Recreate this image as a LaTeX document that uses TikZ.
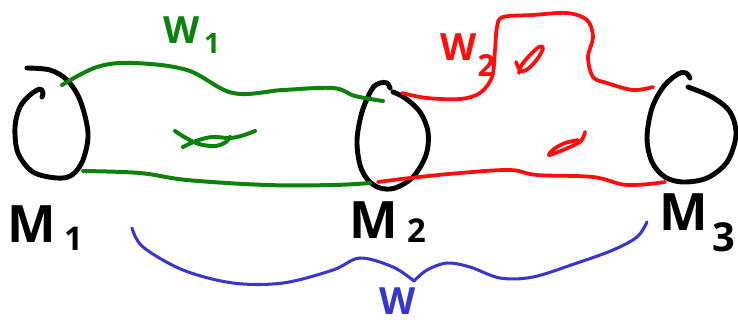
\documentclass[tikz,border=0pt]{standalone}
\usepackage{fontspec}
\setmainfont{Open Sans}

\definecolor{cobgreen}{RGB}{12,130,12}
\definecolor{cobred}{RGB}{255,12,12}
\definecolor{cobblue}{RGB}{55,55,205}

\tikzset{
  manifold/.style={line width=4.2pt, line cap=round, line join=round, black},
  wone/.style={line width=3.4pt, line cap=round, line join=round, cobgreen},
  wtwo/.style={line width=3.2pt, line cap=round, line join=round, cobred},
  bracket/.style={line width=2.6pt, line cap=round, line join=round, cobblue},
  biglabel/.style={inner sep=0pt, anchor=base west, font=\bfseries\fontsize{44}{46}\selectfont},
  midlabel/.style={inner sep=0pt, anchor=base west, font=\bfseries\fontsize{32}{34}\selectfont},
}
% subscript digit: lowered by #1, set at size #2
\newcommand\lowdigit[3]{\lower#1\hbox{\fontsize{#2}{#2}\selectfont #3}}

\begin{document}
\begin{tikzpicture}[x=0.03cm, y=-0.03cm]
  \useasboundingbox (0,0) rectangle (738,322);

  % boundary circles
  \draw[manifold] plot[smooth, tension=0.55] coordinates {
    (27,68) (50,70) (67,80) (80,100) (88,133) (83,160) (72,175) (57,178)
    (33,172) (18,153) (15,127) (20,107) (30,95) (40,89) (43,93) (42,97)};
  \draw[manifold] plot[smooth, tension=0.55] coordinates {
    (390,88) (387,83) (380,83) (372,89) (362,112) (357,140) (360,165)
    (368,180) (380,188) (395,188) (413,177) (426,155) (428,132) (420,112)
    (405,98) (393,92)};
  \draw[manifold] plot[smooth, tension=0.55] coordinates {
    (690,78) (686,73) (678,74) (664,86) (652,108) (647,138) (652,162)
    (665,177) (683,182) (707,178) (727,162) (736,135) (730,112) (712,97)
    (688,87)};

  % cobordism W_1
  \draw[wone] plot[smooth, tension=0.6] coordinates {
    (62,85) (97,67) (133,63) (187,70) (233,93) (283,90) (333,88) (355,96)
    (383,101)};
  \draw[wone] plot[smooth, tension=0.6] coordinates {
    (83,171) (140,173) (187,180) (267,185) (333,185) (370,183)};
  \draw[wone] plot[smooth, tension=0.6] coordinates {
    (175,131) (186,138) (199,144) (215,146) (226,142) (230,137)};
  \draw[wone] plot[smooth, tension=0.6] coordinates {
    (183,147) (196,141) (212,137) (229,138) (241,136) (255,131)};

  % cobordism W_2
  \draw[wtwo] plot[smooth, tension=0.55] coordinates {
    (402,93) (427,98) (460,99) (480,93) (492,77) (495,50) (497,27) (503,17)
    (533,15) (567,13) (587,20) (593,37) (588,57) (593,77) (607,83) (633,90)
    (653,87)};
  \draw[wtwo] plot[smooth, tension=0.6] coordinates {
    (378,182) (410,178) (460,173) (510,170) (537,175) (593,177) (627,185)
    (665,182)};
  \draw[wtwo] plot[smooth, tension=0.6] coordinates {
    (516,62) (521,71) (529,68) (538,58) (543,48) (539,47) (530,55) (521,66)
    (519,73)};
  \draw[wtwo] plot[smooth, tension=0.6] coordinates {
    (585,132) (581,141) (570,147) (558,152) (549,155) (554,149) (565,143)
    (578,140)};

  % brace under the composite
  \draw[bracket] plot[smooth, tension=0.55] coordinates {
    (132,228) (143,247) (183,270) (233,283) (283,283) (333,270) (360,258)
    (393,267) (414,281)};
  \draw[bracket] plot[smooth, tension=0.55] coordinates {
    (414,281) (427,270) (447,263) (470,267) (500,278) (533,277) (577,263)
    (613,250) (637,237) (647,222)};

  % labels
  \node[biglabel] (m1) at (7,242) {M\kern7pt\lowdigit{7pt}{28pt}{1}};
  \node[biglabel] (m2) at (349,238) {M\kern8pt\lowdigit{4pt}{28pt}{2}};
  \node[biglabel] (m3) at (659,230) {M\kern4pt\lowdigit{18pt}{34pt}{3}};
  \node[midlabel, text=cobgreen] (w1) at (163,43) {W\kern4pt\lowdigit{9pt}{24pt}{1}};
  \node[midlabel, text=cobred] (w2) at (440,60) {W\kern1pt\lowdigit{14pt}{26pt}{2}};
  \node[midlabel, text=cobblue] (w) at (379,314) {W};
\end{tikzpicture}
\end{document}
